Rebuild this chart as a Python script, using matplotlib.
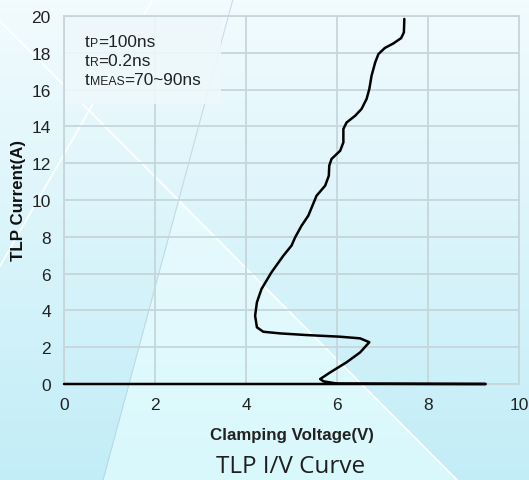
"""
TLP I/V curve
"""
import numpy as np
import matplotlib
matplotlib.use("Agg")
import matplotlib.pyplot as plt
from matplotlib.offsetbox import TextArea, HPacker, VPacker, AnchoredOffsetbox
from matplotlib.patches import Rectangle

# data
voltage = [0.0, 9.27, 6.0, 5.70, 5.63, 5.85, 6.21, 6.51, 6.71, 6.51, 6.07, 5.33,
           4.75, 4.38, 4.24, 4.20, 4.24, 4.34, 4.56, 4.82, 5.0, 5.08, 5.22,
           5.37, 5.46, 5.55, 5.74, 5.82, 5.83, 5.88, 6.07, 6.14, 6.14, 6.21,
           6.40, 6.54, 6.65, 6.71, 6.76, 6.84, 6.91, 7.05, 7.24, 7.41, 7.47,
           7.48]
current = [0.0, 0.0, 0.02, 0.15, 0.27, 0.63, 1.18, 1.72, 2.27, 2.48, 2.57, 2.66,
           2.75, 2.84, 3.08, 3.71, 4.44, 5.16, 6.07, 6.97, 7.52, 7.97, 8.6,
           9.15, 9.69, 10.23, 10.78, 11.32, 11.87, 12.23, 12.68, 13.13, 13.86,
           14.21, 14.58, 14.95, 15.49, 16.03, 16.76, 17.48, 17.93, 18.26,
           18.51, 18.8, 19.11, 19.84]
x_ticks = [0, 2, 4, 6, 8, 10]
y_ticks = [0, 2, 4, 6, 8, 10, 12, 14, 16, 18, 20]
notes = [("t", "P", "=100ns"), ("t", "R", "=0.2ns"), ("t", "MEAS", "=70~90ns")]

W, H = 529, 481
fig = plt.figure(figsize=(W / 100, H / 100), dpi=100)

# background gradient with the light diagonal shapes
bg = fig.add_axes([0, 0, 1, 1], zorder=-10)
yy, xx = np.mgrid[0:H, 0:W].astype(float)
f = (yy / H)[..., None]
top = np.array([0.95, 0.985, 0.995])
low = np.array([0.76, 0.93, 0.97])
light = np.array([0.85, 0.975, 0.99])
img = top * (1 - f) + low * f
wedge = (xx > 233 - 0.27 * yy) & (xx < (yy - 22) / 1.004)
img[wedge] = (top * (1 - f) + light * f)[wedge]
bg.imshow(img, extent=[0, W, H, 0], aspect="auto")
bg.plot([0, 457], [22, 481], color="white", lw=1.2)
bg.plot([153, 0], [0, 267], color="white", lw=1.2)
bg.plot([233, 103], [0, 481], color="#b8cfe0", lw=0.8, alpha=0.7)
bg.set_xlim(0, W)
bg.set_ylim(H, 0)
bg.axis("off")

ax = fig.add_axes([64 / W, 1 - 385 / H, 455 / W, 368 / H])
ax.set_facecolor("none")
ax.set_xlim(0, 10)
ax.set_ylim(0, 20)
ax.set_xticks(x_ticks)
ax.set_yticks(y_ticks)
ax.grid(True, color="#c6d6da", lw=1.3)
ax.set_axisbelow(True)
for s in ax.spines.values():
    s.set_color("#c6d6da")
    s.set_linewidth(1.3)
ax.tick_params(length=0, pad=9.5, labelsize=12.5, labelcolor="#222222")
for lab in ax.get_xticklabels() + ax.get_yticklabels():
    lab.set_fontfamily("Liberation Sans")

# box behind the notes hides the grid
ax.add_patch(Rectangle((0.02, 15.2), 3.42, 4.75, facecolor="#eef8fb",
                       edgecolor="none", alpha=0.9, zorder=1.5))

ax.plot(voltage, current, color="black", lw=1.8, solid_joinstyle="round",
        solid_capstyle="round", zorder=3, clip_on=False)

ax.set_xlabel("Clamping Voltage(V)", fontsize=12.2, fontweight="bold",
              family="Liberation Sans", color="#222222", labelpad=11)
ax.set_ylabel("TLP Current(A)", fontsize=12.2, fontweight="bold",
              family="Liberation Sans", color="#111111", labelpad=4)


def note_line(t, sub, rest):
    parts = [(t, 12.4), (sub, 8.8), (rest, 12.4)]
    boxes = [TextArea(s, textprops=dict(fontsize=fs, family="Liberation Sans",
                                        color="#222222")) for s, fs in parts]
    return HPacker(children=boxes, align="baseline", pad=0, sep=0)


lines = VPacker(children=[note_line(*n) for n in notes], align="left",
                pad=0, sep=3)
anc = AnchoredOffsetbox(loc="upper left", child=lines, frameon=False, pad=0,
                        borderpad=0, bbox_to_anchor=(85 / W, 1 - 35 / H),
                        bbox_transform=fig.transFigure)
ax.add_artist(anc)

fig.text(291 / W, 1 - 467 / H, "TLP I/V Curve", ha="center", va="center",
         fontsize=17.5, family="Open Sans", color="#1f1f1f")

fig.savefig("out.png", dpi=100)
